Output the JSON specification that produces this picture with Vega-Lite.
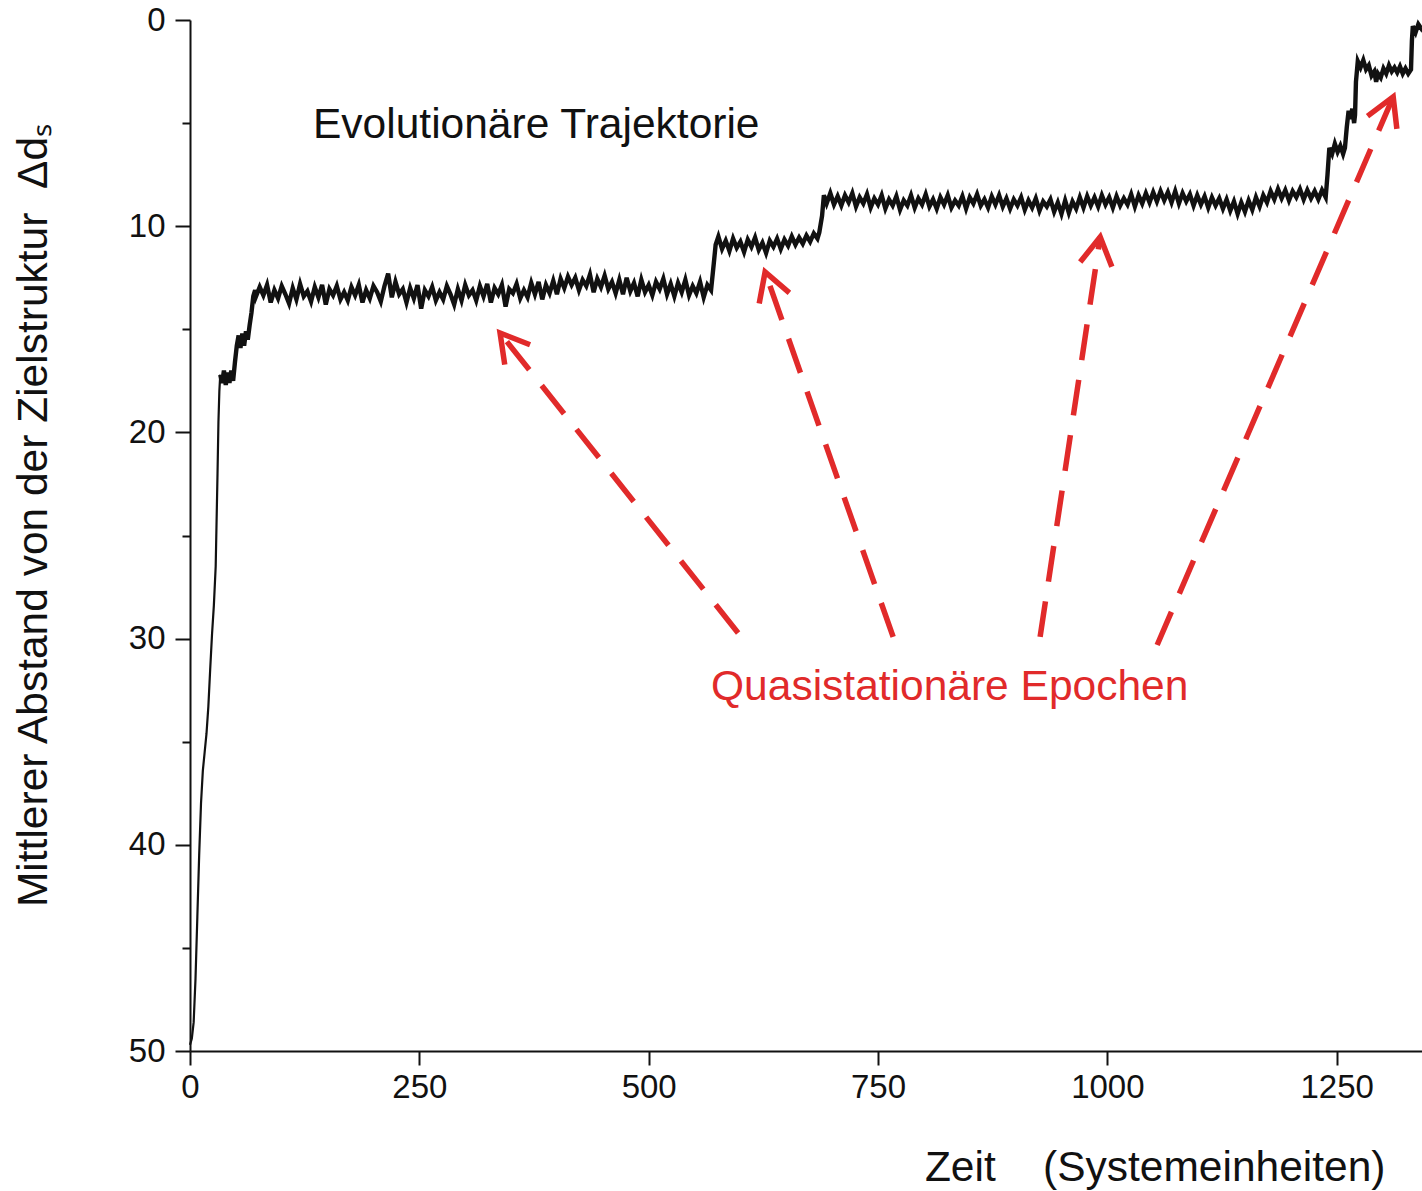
{
  "$schema": "https://vega.github.io/schema/vega-lite/v6.json",
  "width": 1232,
  "height": 1031,
  "autosize": {"type": "none"},
  "padding": {"left": 190, "top": 20, "right": 0, "bottom": 140},
  "background": "white",
  "config": {
    "view": {"stroke": null},
    "font": "Liberation Sans",
    "axis": {"domainColor": "#111", "domainWidth": 2, "tickColor": "#111", "tickWidth": 2, "labelColor": "#111", "labelFont": "Liberation Sans", "labelFontSize": 33, "titleFont": "Liberation Sans", "titleFontSize": 42.5, "titleFontWeight": "normal", "titleColor": "#111", "grid": false}
  },
  "datasets": {
    "traj": [
      {"t":0,"d":49.7},{"t":2,"d":49.4},{"t":4,"d":48.6},{"t":6,"d":46.5},{"t":8,"d":43.5},{"t":10,"d":40.5},{"t":12,"d":38.0},{"t":14,"d":36.4},{"t":16,"d":35.5},{"t":18,"d":34.6},{"t":20,"d":33.3},{"t":22,"d":31.5},{"t":24,"d":29.8},{"t":26,"d":28.4},{"t":28,"d":26.5},{"t":30,"d":22.0},{"t":31,"d":19.5},{"t":32,"d":18.0},{"t":33,"d":17.2},{"t":35,"d":17.6},{"t":37,"d":17.0},{"t":39,"d":17.7},{"t":41,"d":17.1},{"t":43,"d":17.6},{"t":45,"d":17.0},{"t":47,"d":17.5},{"t":49,"d":16.6},{"t":51,"d":15.8},{"t":53,"d":15.3},{"t":55,"d":15.9},{"t":57,"d":15.2},{"t":59,"d":15.8},{"t":61,"d":15.1},{"t":63,"d":15.5},{"t":65,"d":14.8},{"t":67,"d":14.2},{"t":69,"d":13.4},{"t":71,"d":13.1},
      {"t":72,"d":13.4},{"t":76,"d":12.95},{"t":80,"d":13.35},{"t":84,"d":12.85},{"t":88,"d":13.7},{"t":92,"d":13.1},{"t":96,"d":13.5},{"t":100,"d":12.9},{"t":104,"d":13.3},{"t":108,"d":13.75},{"t":112,"d":13.0},{"t":116,"d":13.55},{"t":120,"d":12.8},{"t":124,"d":13.4},{"t":128,"d":13.15},{"t":132,"d":13.65},{"t":136,"d":12.95},{"t":140,"d":13.45},{"t":144,"d":12.85},{"t":148,"d":13.8},{"t":152,"d":13.05},{"t":156,"d":13.35},{"t":160,"d":12.9},{"t":164,"d":13.55},{"t":168,"d":13.2},{"t":172,"d":13.6},{"t":176,"d":12.95},{"t":180,"d":13.35},{"t":184,"d":12.85},{"t":188,"d":13.7},{"t":192,"d":13.1},{"t":196,"d":13.5},{"t":200,"d":12.9},{"t":204,"d":13.2},{"t":208,"d":13.65},{"t":212,"d":12.9},{"t":216,"d":12.3},{"t":220,"d":13.45},{"t":224,"d":12.7},{"t":228,"d":13.3},{"t":232,"d":13.05},{"t":236,"d":13.7},{"t":240,"d":13.0},{"t":244,"d":13.5},{"t":248,"d":12.85},{"t":252,"d":14.0},{"t":256,"d":13.1},{"t":260,"d":13.4},{"t":264,"d":12.95},{"t":268,"d":13.6},{"t":272,"d":13.2},{"t":276,"d":13.55},{"t":280,"d":12.9},{"t":284,"d":13.3},{"t":288,"d":13.8},{"t":292,"d":13.05},{"t":296,"d":13.6},{"t":300,"d":12.85},{"t":304,"d":13.35},{"t":308,"d":13.1},{"t":312,"d":13.6},{"t":316,"d":12.9},{"t":320,"d":13.4},{"t":324,"d":12.8},{"t":328,"d":13.7},{"t":332,"d":13.0},{"t":336,"d":13.3},{"t":340,"d":12.85},{"t":344,"d":13.9},{"t":348,"d":13.05},{"t":352,"d":13.25},{"t":356,"d":12.8},{"t":360,"d":13.5},{"t":364,"d":13.1},{"t":368,"d":13.45},{"t":372,"d":12.75},{"t":376,"d":13.3},{"t":380,"d":12.7},{"t":384,"d":13.55},{"t":388,"d":12.85},{"t":392,"d":13.25},{"t":396,"d":12.65},{"t":400,"d":13.3},{"t":404,"d":12.55},{"t":408,"d":13.0},{"t":412,"d":12.45},{"t":416,"d":12.85},{"t":420,"d":12.5},{"t":424,"d":13.1},{"t":428,"d":12.6},{"t":432,"d":12.9},{"t":436,"d":12.35},{"t":440,"d":13.2},{"t":444,"d":12.55},{"t":448,"d":12.95},{"t":452,"d":12.4},{"t":456,"d":13.05},{"t":460,"d":12.7},{"t":464,"d":13.25},{"t":468,"d":12.6},{"t":472,"d":13.3},{"t":476,"d":12.5},{"t":480,"d":13.15},{"t":484,"d":12.75},{"t":488,"d":13.4},{"t":492,"d":12.6},{"t":496,"d":13.2},{"t":500,"d":12.85},{"t":504,"d":13.35},{"t":508,"d":12.7},{"t":512,"d":13.05},{"t":516,"d":12.55},{"t":520,"d":13.3},{"t":524,"d":12.8},{"t":528,"d":13.4},{"t":532,"d":12.75},{"t":536,"d":13.2},{"t":540,"d":12.6},{"t":544,"d":13.35},{"t":548,"d":12.9},{"t":552,"d":13.25},{"t":556,"d":12.7},{"t":560,"d":13.45},{"t":564,"d":12.85},{"t":568,"d":13.1},
      {"t":571,"d":11.8},{"t":573,"d":10.9},
      {"t":576,"d":10.5},{"t":580,"d":11.1},{"t":584,"d":10.7},{"t":588,"d":11.2},{"t":592,"d":10.6},{"t":596,"d":11.05},{"t":600,"d":10.75},{"t":604,"d":11.25},{"t":608,"d":10.65},{"t":612,"d":11.0},{"t":616,"d":10.55},{"t":620,"d":11.15},{"t":624,"d":10.8},{"t":628,"d":11.3},{"t":632,"d":10.7},{"t":636,"d":11.0},{"t":640,"d":10.6},{"t":644,"d":11.1},{"t":648,"d":10.65},{"t":652,"d":10.95},{"t":656,"d":10.5},{"t":660,"d":10.9},{"t":664,"d":10.55},{"t":668,"d":10.85},{"t":672,"d":10.45},{"t":676,"d":10.75},{"t":680,"d":10.35},{"t":684,"d":10.6},{"t":686,"d":10.3},
      {"t":689,"d":9.5},{"t":691,"d":8.5},
      {"t":694,"d":8.9},{"t":698,"d":8.4},{"t":702,"d":8.95},{"t":706,"d":8.55},{"t":710,"d":9.0},{"t":714,"d":8.5},{"t":718,"d":8.85},{"t":722,"d":8.4},{"t":726,"d":9.05},{"t":730,"d":8.6},{"t":734,"d":8.9},{"t":738,"d":8.45},{"t":742,"d":9.1},{"t":746,"d":8.65},{"t":750,"d":8.95},{"t":754,"d":8.5},{"t":758,"d":9.15},{"t":762,"d":8.7},{"t":766,"d":9.0},{"t":770,"d":8.55},{"t":774,"d":9.2},{"t":778,"d":8.75},{"t":782,"d":9.0},{"t":786,"d":8.5},{"t":790,"d":9.1},{"t":794,"d":8.65},{"t":798,"d":8.95},{"t":802,"d":8.45},{"t":806,"d":9.05},{"t":810,"d":8.7},{"t":814,"d":9.15},{"t":818,"d":8.6},{"t":822,"d":8.95},{"t":826,"d":8.5},{"t":830,"d":9.1},{"t":834,"d":8.75},{"t":838,"d":9.0},{"t":842,"d":8.55},{"t":846,"d":9.15},{"t":850,"d":8.6},{"t":854,"d":8.9},{"t":858,"d":8.45},{"t":862,"d":9.0},{"t":866,"d":8.7},{"t":870,"d":9.1},{"t":874,"d":8.55},{"t":878,"d":8.95},{"t":882,"d":8.5},{"t":886,"d":9.05},{"t":890,"d":8.65},{"t":894,"d":9.15},{"t":898,"d":8.7},{"t":902,"d":9.0},{"t":906,"d":8.6},{"t":910,"d":9.2},{"t":914,"d":8.75},{"t":918,"d":9.1},{"t":922,"d":8.65},{"t":926,"d":9.25},{"t":930,"d":8.8},{"t":934,"d":9.05},{"t":938,"d":8.7},{"t":942,"d":9.3},{"t":946,"d":8.85},{"t":950,"d":9.4},{"t":954,"d":8.75},{"t":958,"d":9.35},{"t":962,"d":8.8},{"t":966,"d":9.15},{"t":970,"d":8.6},{"t":974,"d":9.1},{"t":978,"d":8.55},{"t":982,"d":9.0},{"t":986,"d":8.6},{"t":990,"d":9.05},{"t":994,"d":8.5},{"t":998,"d":8.95},{"t":1002,"d":8.6},{"t":1006,"d":9.1},{"t":1010,"d":8.55},{"t":1014,"d":9.0},{"t":1018,"d":8.65},{"t":1022,"d":8.95},{"t":1026,"d":8.45},{"t":1030,"d":9.05},{"t":1034,"d":8.5},{"t":1038,"d":8.9},{"t":1042,"d":8.4},{"t":1046,"d":8.85},{"t":1050,"d":8.35},{"t":1054,"d":8.8},{"t":1058,"d":8.3},{"t":1062,"d":8.75},{"t":1066,"d":8.35},{"t":1070,"d":8.85},{"t":1074,"d":8.3},{"t":1078,"d":8.9},{"t":1082,"d":8.4},{"t":1086,"d":8.8},{"t":1090,"d":8.45},{"t":1094,"d":9.0},{"t":1098,"d":8.5},{"t":1102,"d":8.95},{"t":1106,"d":8.55},{"t":1110,"d":9.1},{"t":1114,"d":8.6},{"t":1118,"d":9.0},{"t":1122,"d":8.65},{"t":1126,"d":9.15},{"t":1130,"d":8.7},{"t":1134,"d":9.25},{"t":1138,"d":8.8},{"t":1142,"d":9.4},{"t":1146,"d":8.85},{"t":1150,"d":9.3},{"t":1154,"d":8.75},{"t":1158,"d":9.2},{"t":1162,"d":8.6},{"t":1166,"d":9.05},{"t":1170,"d":8.5},{"t":1174,"d":8.85},{"t":1178,"d":8.3},{"t":1182,"d":8.7},{"t":1186,"d":8.2},{"t":1190,"d":8.65},{"t":1194,"d":8.25},{"t":1198,"d":8.75},{"t":1202,"d":8.3},{"t":1206,"d":8.6},{"t":1210,"d":8.2},{"t":1214,"d":8.7},{"t":1218,"d":8.25},{"t":1222,"d":8.65},{"t":1226,"d":8.3},{"t":1230,"d":8.7},{"t":1234,"d":8.25},{"t":1238,"d":8.6},
      {"t":1240,"d":7.5},{"t":1242,"d":6.2},
      {"t":1245,"d":6.5},{"t":1248,"d":6.0},{"t":1251,"d":6.4},{"t":1254,"d":6.1},{"t":1257,"d":6.5},{"t":1259,"d":6.2},{"t":1261,"d":5.2},{"t":1263,"d":4.4},{"t":1265,"d":4.8},{"t":1267,"d":4.3},{"t":1269,"d":5.0},{"t":1270,"d":4.6},{"t":1271,"d":3.0},{"t":1273,"d":2.0},{"t":1276,"d":2.3},{"t":1279,"d":1.95},{"t":1282,"d":2.4},{"t":1285,"d":2.2},{"t":1288,"d":2.7},{"t":1291,"d":2.5},{"t":1293,"d":3.0},{"t":1295,"d":2.6},{"t":1298,"d":2.8},{"t":1301,"d":2.35},{"t":1304,"d":2.6},{"t":1307,"d":2.2},{"t":1310,"d":2.5},{"t":1313,"d":2.3},{"t":1316,"d":2.55},{"t":1319,"d":2.25},{"t":1322,"d":2.6},{"t":1325,"d":2.35},{"t":1328,"d":2.6},{"t":1331,"d":2.4},{"t":1332,"d":1.0},{"t":1333,"d":0.3},{"t":1336,"d":0.6},{"t":1339,"d":0.2},{"t":1342,"d":0.4},{"t":1343,"d":0.3}
    ],
    "shafts": [
      {"id":"a1","o":0,"t":597.5,"d":29.73},{"id":"a1","o":1,"t":338.0,"d":15.18},
      {"id":"a2","o":0,"t":766.5,"d":29.92},{"id":"a2","o":1,"t":626.9,"d":12.22},
      {"id":"a3","o":0,"t":926.7,"d":29.92},{"id":"a3","o":1,"t":992.2,"d":10.52},
      {"id":"a4","o":0,"t":1054.3,"d":30.31},{"id":"a4","o":1,"t":1311.6,"d":3.73}
    ],
    "heads": [
      {"id":"h1","o":0,"t":343.1,"d":16.71},{"id":"h1","o":1,"t":338.0,"d":15.18},{"id":"h1","o":2,"t":370.7,"d":15.75},
      {"id":"h2","o":0,"t":620.5,"d":13.75},{"id":"h2","o":1,"t":626.9,"d":12.22},{"id":"h2","o":2,"t":653.4,"d":13.23},
      {"id":"h3","o":0,"t":970.4,"d":11.74},{"id":"h3","o":1,"t":992.2,"d":10.52},{"id":"h3","o":2,"t":1004.9,"d":11.97},
      {"id":"h4","o":0,"t":1283.6,"d":4.66},{"id":"h4","o":1,"t":1311.6,"d":3.73},{"id":"h4","o":2,"t":1315.6,"d":5.28}
    ],
    "label1": [{"t":134.1,"d":5.72,"text":"Evolutionäre Trajektorie"}],
    "label2": [{"t":568.0,"d":32.98,"text":"Quasistationäre Epochen"}]
  },
  "layer": [
    {
      "data": {"name": "traj"},
      "transform": [{"filter": "datum.t <= 33"}],
      "mark": {"type": "line", "color": "#111", "strokeWidth": 2.2},
      "encoding": {
        "x": {"field": "t", "type": "quantitative", "scale": {"domain": [0, 1343], "nice": false, "zero": false},
          "axis": {"values": [0, 250, 500, 750, 1000, 1250], "format": "d", "tickSize": 14, "labelPadding": 6, "labelFlush": false, "labelOverlap": false,
            "title": "Zeit\u00a0\u00a0\u00a0\u00a0(Systemeinheiten)", "titleAnchor": null, "titleAlign": "right", "titleBaseline": "alphabetic", "titleX": 1195, "titleY": 129}},
        "y": {"field": "d", "type": "quantitative", "scale": {"domain": [0, 50], "nice": false, "zero": false, "reverse": true},
          "axis": {"values": [0, 5, 10, 15, 20, 25, 30, 35, 40, 45, 50],
            "tickSize": {"condition": {"test": "datum.value % 10 === 0", "value": 15}, "value": 8},
            "labelExpr": "datum.value % 10 === 0 ? datum.label : ''", "labelPadding": 10, "labelFlush": false, "labelOverlap": false,
            "title": "Mittlerer Abstand von der Zielstruktur\u00a0\u00a0Δdₛ", "titleAnchor": null, "titleAlign": "center", "titleBaseline": "alphabetic", "titleAngle": 270, "titleX": -144, "titleY": 495}}
      }
    },
    {
      "data": {"name": "traj"},
      "transform": [{"filter": "datum.t >= 33"}],
      "mark": {"type": "line", "color": "#111", "strokeWidth": 4.4, "strokeJoin": "miter"},
      "encoding": {
        "x": {"field": "t", "type": "quantitative"},
        "y": {"field": "d", "type": "quantitative"}
      }
    },
    {
      "mark": {"type": "rule", "color": "#111", "strokeWidth": 2},
      "encoding": {"y": {"datum": 0}}
    },
    {
      "data": {"name": "shafts"},
      "mark": {"type": "line", "color": "#e12a2a", "strokeWidth": 5.5, "strokeDash": [36, 20], "strokeCap": "butt"},
      "encoding": {
        "x": {"field": "t", "type": "quantitative"},
        "y": {"field": "d", "type": "quantitative"},
        "detail": {"field": "id"},
        "order": {"field": "o"}
      }
    },
    {
      "data": {"name": "heads"},
      "mark": {"type": "line", "color": "#e12a2a", "strokeWidth": 5.5, "strokeCap": "butt", "strokeJoin": "miter"},
      "encoding": {
        "x": {"field": "t", "type": "quantitative"},
        "y": {"field": "d", "type": "quantitative"},
        "detail": {"field": "id"},
        "order": {"field": "o"}
      }
    },
    {
      "data": {"name": "label1"},
      "mark": {"type": "text", "align": "left", "baseline": "alphabetic", "font": "Liberation Sans", "fontSize": 42.5, "color": "#111"},
      "encoding": {
        "x": {"field": "t", "type": "quantitative"},
        "y": {"field": "d", "type": "quantitative"},
        "text": {"field": "text"}
      }
    },
    {
      "data": {"name": "label2"},
      "mark": {"type": "text", "align": "left", "baseline": "alphabetic", "font": "Liberation Sans", "fontSize": 42.5, "color": "#e12a2a"},
      "encoding": {
        "x": {"field": "t", "type": "quantitative"},
        "y": {"field": "d", "type": "quantitative"},
        "text": {"field": "text"}
      }
    }
  ]
}
